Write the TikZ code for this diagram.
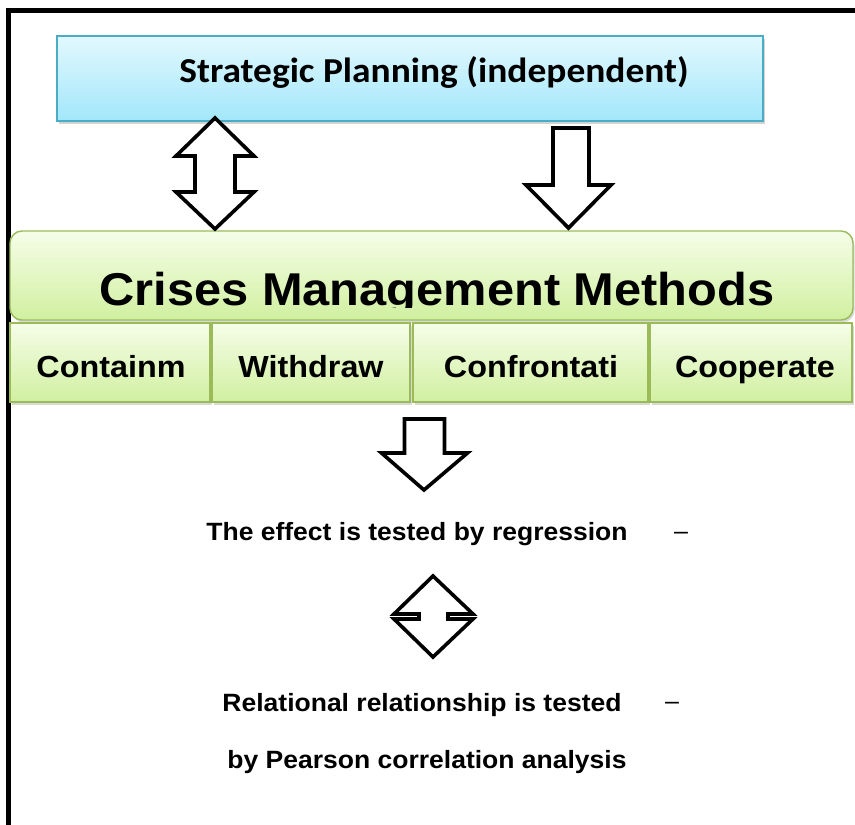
\documentclass[tikz,border=0pt]{standalone}
\usepackage{fontspec}
\setmainfont{Liberation Sans}
\newfontfamily\widesans[FakeStretch=1.06]{Liberation Sans}
\newfontfamily\calibri[FakeStretch=1.07]{Carlito}
\usetikzlibrary{shadows}
\definecolor{planTop}{HTML}{E2F8FE}
\definecolor{planBot}{HTML}{A2E7FA}
\definecolor{planLine}{HTML}{4BACC6}
\definecolor{greenTop}{HTML}{F5FDE8}
\definecolor{greenBot}{HTML}{D1F0A0}
\definecolor{greenLine}{HTML}{9BBB59}
\tikzset{
	planbox/.style={draw=planLine, line width=2, top color=planTop, bottom color=planBot,
		drop shadow={opacity=0.35, shadow xshift=1.5pt, shadow yshift=-2.5pt}},
	methbox/.style={draw=greenLine, line width=1.4, top color=greenTop, bottom color=greenBot,
		drop shadow={opacity=0.3, shadow xshift=1.5pt, shadow yshift=-2.5pt}},
	blockarrow/.style={draw=black, line width=3.6, fill=white, line join=miter},
	methtext/.style={anchor=base, font=\widesans\bfseries\fontsize{30.5}{36}\selectfont},
	testtext/.style={anchor=base, font=\widesans\bfseries\fontsize{25}{30}\selectfont},
	dashtext/.style={anchor=base, inner sep=0, font=\fontsize{25}{30}\selectfont},
}

\begin{document}
\begin{tikzpicture}[x=1pt, y=-1pt]
			%%%%% START %%%%%
			\useasboundingbox (0, 0) rectangle (855, 825);
			
			% frame
			\draw[line width=5] (8, 830) -- (8, 10.5) -- (860, 10.5);
			
			% independent variable
			\node[planbox, minimum width=706, minimum height=85, inner sep=0] (plan) at (410, 78.5) {};
			\node[anchor=base, font=\calibri\bfseries\fontsize{35}{40}\selectfont] (plantext) at (434, 82) {Strategic Planning (independent)};
			
			% methods
			\node[methbox, rounded corners=12, minimum width=843, minimum height=89, inner sep=0] (crises) at (431.5, 275.5) {};
			\begin{scope}
				\clip (10, 231) rectangle (860, 307);
				\node[anchor=base, font=\widesans\bfseries\fontsize{46}{52}\selectfont] (crisestext) at (437, 305) {Crises Management Methods};
			\end{scope}
			
			\node[methbox, minimum width=200, minimum height=79, inner sep=0] (contain) at (110, 362.5) {};
			\node[methbox, minimum width=198, minimum height=79, inner sep=0] (withdraw) at (311, 362.5) {};
			\node[methbox, minimum width=235, minimum height=79, inner sep=0] (confront) at (530.5, 362.5) {};
			\node[methbox, minimum width=202, minimum height=79, inner sep=0] (cooperate) at (751, 362.5) {};
			\node[methtext] at (111, 377) {Containm};
			\node[methtext] at (311, 377) {Withdraw};
			\node[methtext] at (531, 377) {Confrontati};
			\node[methtext] at (755, 377) {Cooperate};
			
			% block arrows
			\draw[blockarrow] (215, 118) -- (254, 156) -- (235, 156) -- (235, 192) -- (254, 192) -- (215, 229)
				-- (176, 192) -- (195, 192) -- (195, 156) -- (176, 156) -- cycle;
			\draw[blockarrow] (553, 128) -- (589, 128) -- (589, 185) -- (611, 185) -- (568.5, 228)
				-- (526, 185) -- (553, 185) -- cycle;
			\draw[blockarrow] (404.5, 419) -- (444.5, 419) -- (444.5, 453) -- (467.5, 453) -- (424, 490)
				-- (381.5, 453) -- (404.5, 453) -- cycle;
			\draw[blockarrow] (433, 576) -- (473, 614) -- (448, 614) -- (448, 619) -- (473, 619) -- (433, 657)
				-- (394, 619) -- (419, 619) -- (419, 614) -- (394, 614) -- cycle;
			
			% tests
			\node[testtext] (regr) at (417, 540) {The effect is tested by regression};
			\node[dashtext] (dasha) at (681, 539) {–};
			\node[testtext] (rel) at (422, 711) {Relational relationship is tested};
			\node[dashtext] (dashb) at (672, 709) {–};
			\node[testtext] (pear) at (427, 768) {by Pearson correlation analysis};
			
			%%%%% END %%%%%
\end{tikzpicture}
\end{document}
